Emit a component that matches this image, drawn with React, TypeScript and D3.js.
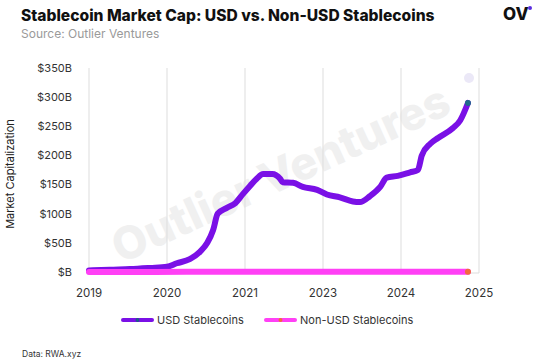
import { useEffect, useRef } from "react";
import * as d3 from "d3";

// decimal year, market cap in $B
const usdSeries: [number, number][] = [
  [2019.0, 2.5], [2019.32, 4], [2019.63, 5], [2019.94, 7], [2020.2, 9],
  [2020.35, 15], [2020.55, 22], [2020.71, 35], [2020.82, 50], [2020.91, 72],
  [2020.98, 100], [2021.12, 110], [2021.25, 118], [2021.37, 134], [2021.48, 148],
  [2021.58, 160], [2021.68, 168], [2021.82, 168], [2021.94, 160], [2021.98, 154],
  [2022.14, 153], [2022.29, 146], [2022.51, 141], [2022.66, 133], [2022.86, 128],
  [2023.06, 121], [2023.17, 120], [2023.32, 130], [2023.48, 146], [2023.58, 162],
  [2023.75, 165], [2023.94, 171], [2024.06, 175], [2024.12, 200], [2024.25, 220],
  [2024.37, 230], [2024.6, 247], [2024.71, 260], [2024.83, 290]
];

const nonUsdSeries: [number, number][] = [
  [2019.0, 0.1], [2020.0, 0.2], [2021.0, 0.4], [2022.0, 0.6], [2023.0, 0.5],
  [2024.0, 0.5], [2024.83, 0.6]
];

const yTicks = [0, 50, 100, 150, 200, 250, 300, 350];
const xTickLabels = ["2019", "2020", "2021", "2023", "2024", "2025"];

const usdColor = "#7a10e6";
const nonUsdColor = "#ff40f5";
const font = "Inter, 'Noto Sans', sans-serif";

export default function App() {
  const svgRef = useRef<SVGSVGElement>(null);

  useEffect(() => {
    const svg = d3.select(svgRef.current);
    svg.selectAll("*").remove();

    const width = 547;
    const height = 364;
    const margin = { top: 68, right: 68, bottom: 92, left: 89 };

    const x = d3.scaleLinear().domain([2019, 2025]).range([margin.left, width - margin.right]);
    const y = d3.scaleLinear().domain([0, 350]).range([height - margin.bottom, margin.top]);
    const xTickValues = xTickLabels.map((_, i) => 2019 + i * 1.2);

    svg.append("rect").attr("width", width).attr("height", height).attr("fill", "#fff");

    // watermark
    svg
      .append("text")
      .attr("transform", "translate(282,177) rotate(-24.5)")
      .attr("text-anchor", "middle")
      .attr("dominant-baseline", "middle")
      .attr("font-family", font)
      .attr("font-weight", 800)
      .attr("font-size", 45)
      .attr("fill", "#f0f0f0")
      .text("Outlier Ventures");
    svg.append("circle").attr("cx", 469).attr("cy", 78).attr("r", 5).attr("fill", "#ebe8f7");

    // grid
    svg
      .append("g")
      .attr("stroke", "#dddddd")
      .selectAll("line")
      .data(xTickValues)
      .join("line")
      .attr("x1", (d) => x(d))
      .attr("x2", (d) => x(d))
      .attr("y1", margin.top)
      .attr("y2", y(0) + 1);
    svg
      .append("line")
      .attr("x1", margin.left)
      .attr("x2", x(2025))
      .attr("y1", y(0) + 1)
      .attr("y2", y(0) + 1)
      .attr("stroke", "#dddddd");

    // y axis labels
    svg
      .append("g")
      .selectAll("text")
      .data(yTicks)
      .join("text")
      .attr("x", 72)
      .attr("y", (d) => y(d))
      .attr("dy", "0.35em")
      .attr("text-anchor", "end")
      .attr("font-family", font)
      .attr("font-size", 11)
      .attr("fill", "#333")
      .text((d) => (d === 0 ? "$B" : `$${d}B`));

    // x axis labels
    svg
      .append("g")
      .selectAll("text")
      .data(xTickValues)
      .join("text")
      .attr("x", (d) => x(d))
      .attr("y", 297)
      .attr("text-anchor", "middle")
      .attr("font-family", font)
      .attr("font-size", 11.5)
      .attr("fill", "#333")
      .text((_, i) => xTickLabels[i]);

    svg
      .append("text")
      .attr("transform", `translate(14,${(margin.top + y(0)) / 2 + 4}) rotate(-90)`)
      .attr("text-anchor", "middle")
      .attr("font-family", font)
      .attr("font-size", 11)
      .attr("fill", "#222")
      .text("Market Capitalization");

    const line = d3
      .line<[number, number]>()
      .x((d) => x(d[0]))
      .y((d) => y(d[1]))
      .curve(d3.curveMonotoneX);

    svg
      .append("path")
      .attr("d", line(usdSeries))
      .attr("fill", "none")
      .attr("stroke", usdColor)
      .attr("stroke-width", 6)
      .attr("stroke-linecap", "round")
      .attr("stroke-linejoin", "round");

    svg
      .append("path")
      .attr("d", line(nonUsdSeries))
      .attr("fill", "none")
      .attr("stroke", nonUsdColor)
      .attr("stroke-width", 6)
      .attr("stroke-linecap", "round")
      .attr("stroke-linejoin", "round");

    const usdLast = usdSeries[usdSeries.length - 1];
    const nonLast = nonUsdSeries[nonUsdSeries.length - 1];
    svg.append("circle").attr("cx", x(usdLast[0])).attr("cy", y(usdLast[1])).attr("r", 3).attr("fill", "#1f6a8a");
    svg.append("circle").attr("cx", x(nonLast[0])).attr("cy", y(nonLast[1])).attr("r", 3).attr("fill", "#f26a3c");

    // legend
    const legend = [
      { label: "USD Stablecoins", color: usdColor, dot: "#1f5a8a", x: 123 },
      { label: "Non-USD Stablecoins", color: nonUsdColor, dot: "#f26a3c", x: 266 }
    ];
    const lg = svg.append("g").selectAll("g").data(legend).join("g").attr("transform", (d) => `translate(${d.x},320)`);
    lg.append("line").attr("x1", 0).attr("x2", 29).attr("stroke", (d) => d.color).attr("stroke-width", 4).attr("stroke-linecap", "round");
    lg.append("circle").attr("cx", 14.5).attr("r", 2).attr("fill", (d) => d.dot);
    lg.append("text")
      .attr("x", 34)
      .attr("dy", "0.35em")
      .attr("font-family", font)
      .attr("font-size", 11)
      .attr("fill", "#333")
      .text((d) => d.label);

    // header
    svg
      .append("text")
      .attr("x", 21)
      .attr("y", 21)
      .attr("font-family", font)
      .attr("font-weight", 800)
      .attr("font-size", 15.6)
      .attr("fill", "#111")
      .text("Stablecoin Market Cap: USD vs. Non-USD Stablecoins");
    svg
      .append("text")
      .attr("x", 21)
      .attr("y", 38)
      .attr("font-family", font)
      .attr("font-size", 12)
      .attr("fill", "#9a9a9a")
      .text("Source: Outlier Ventures");

    svg
      .append("text")
      .attr("x", 503)
      .attr("y", 20)
      .attr("font-family", font)
      .attr("font-weight", 800)
      .attr("font-size", 17)
      .attr("fill", "#111")
      .text("OV");
    svg.append("circle").attr("cx", 530).attr("cy", 8).attr("r", 2).attr("fill", "#5a2de0");

    svg
      .append("text")
      .attr("x", 22)
      .attr("y", 357)
      .attr("font-family", font)
      .attr("font-size", 8.5)
      .attr("fill", "#333")
      .text("Data: RWA.xyz");
  }, []);

  return (
    <svg
      ref={svgRef}
      width={547}
      height={364}
      style={{ position: "absolute", left: 0, top: 0, display: "block" }}
    />
  );
}
